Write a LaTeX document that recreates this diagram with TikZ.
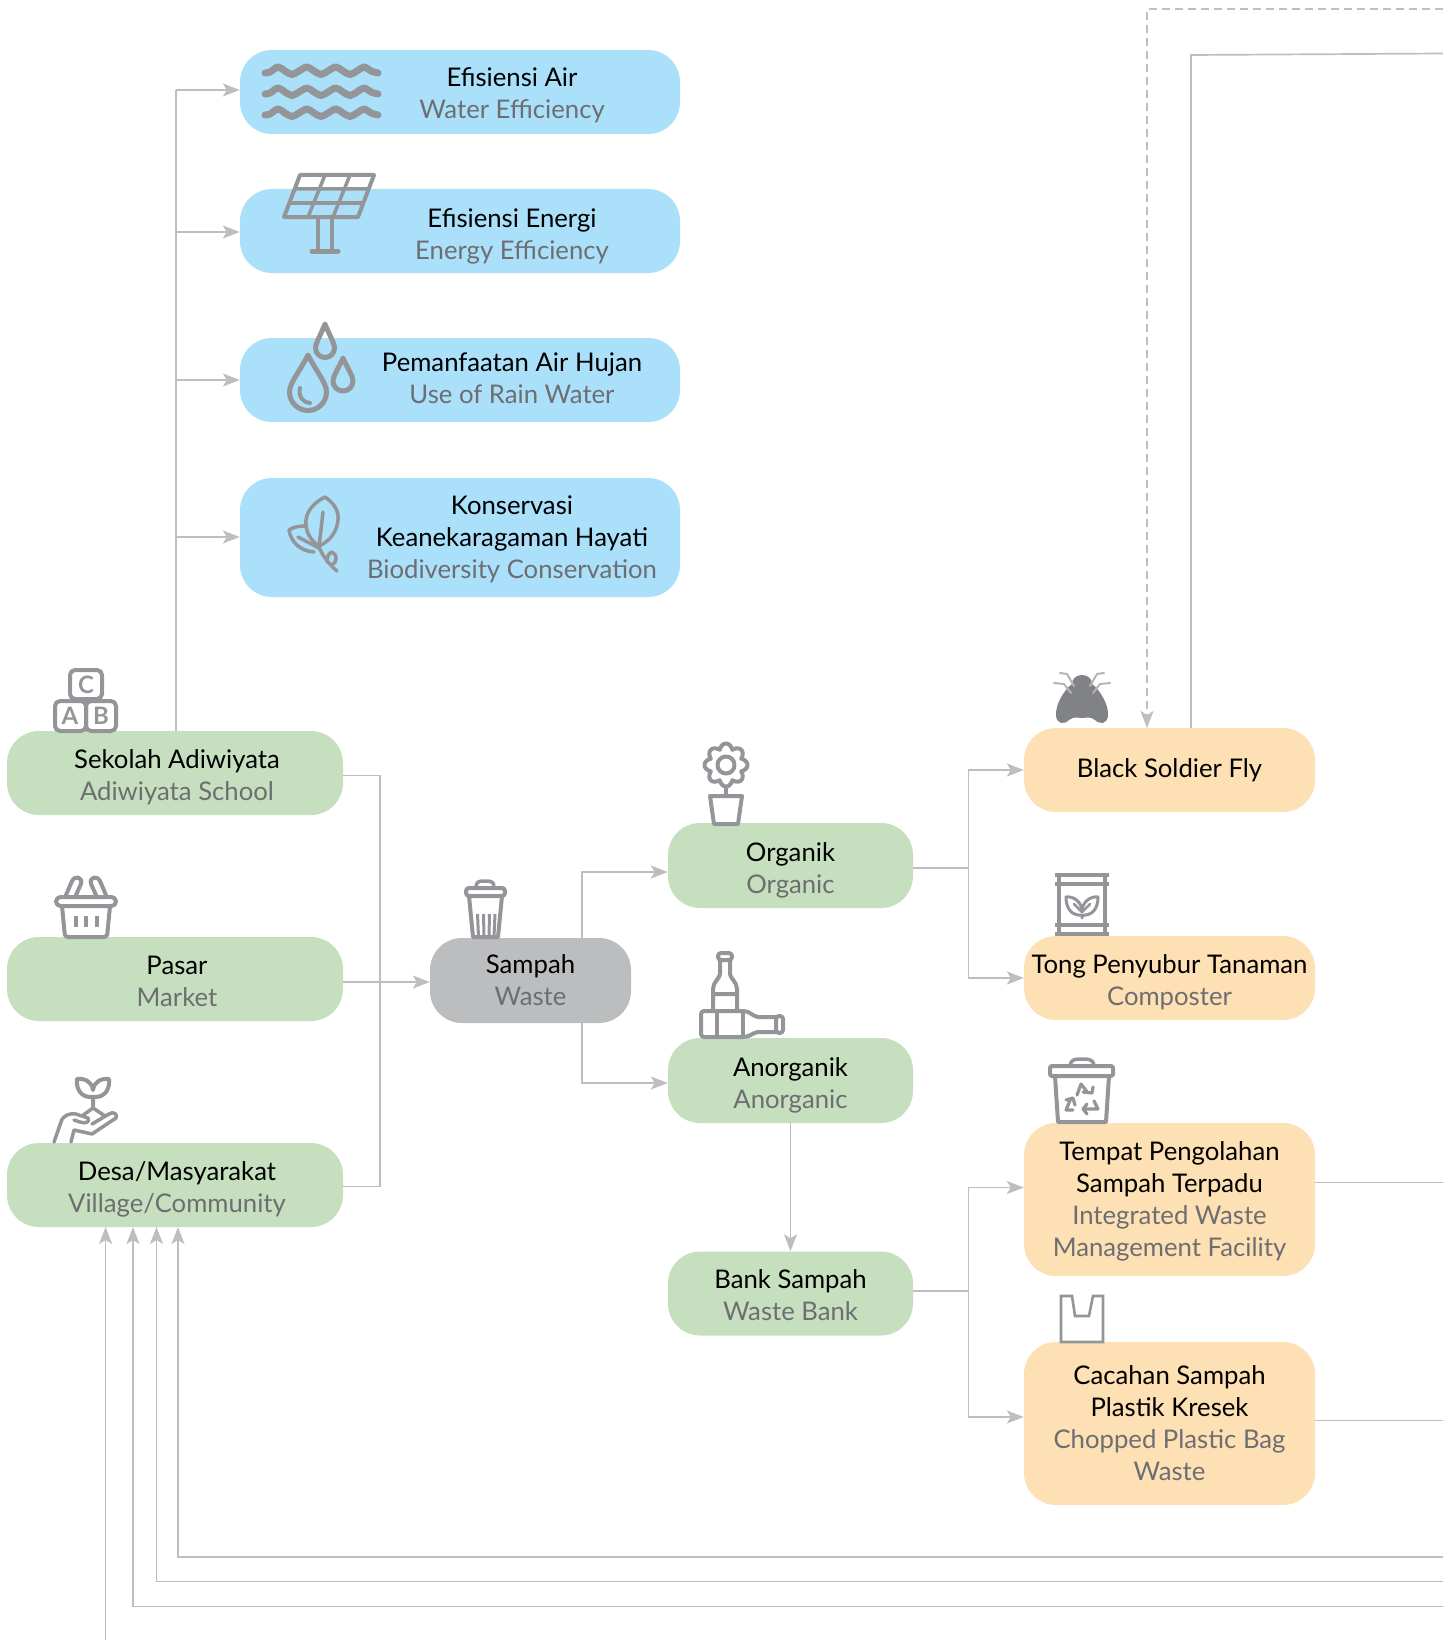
\documentclass[tikz,border=0pt]{standalone}
\usepackage{fontspec}
\setmainfont{Lato}
\usetikzlibrary{arrows.meta,calc}
\definecolor{cblue}{HTML}{ABE0FB}
\definecolor{cgreen}{HTML}{C6E0BF}
\definecolor{corange}{HTML}{FEE0B5}
\definecolor{cgray}{HTML}{BBBDBF}
\definecolor{cline}{HTML}{BCBEC0}
\definecolor{cicon}{HTML}{939598}
\definecolor{cfly}{HTML}{808285}
\definecolor{csub}{HTML}{6D6E71}
\newcommand{\sbt}[1]{{\color{csub}#1}}
\newcommand{\rdrop}[4]{\draw[ic,line width=5pt] (#1,#2) .. controls ({#1+0.45*#4},{#2+0.45*(#3-#2)}) and ({#1+#4},{#3-0.5*#4}) .. ({#1+#4},#3) .. controls ({#1+#4},{#3+0.55*#4}) and ({#1+0.55*#4},{#3+#4}) .. (#1,{#3+#4}) .. controls ({#1-0.55*#4},{#3+#4}) and ({#1-#4},{#3+0.55*#4}) .. ({#1-#4},#3) .. controls ({#1-#4},{#3-0.5*#4}) and ({#1-0.45*#4},{#2+0.45*(#3-#2)}) .. cycle;}
\newcommand{\wavy}[1]{\draw[ic,line width=7pt] plot[smooth,tension=.6] coordinates {(265,#1) (270,{#1-1}) (278,{#1-6}) (285,{#1-2}) (292,{#1+1.5}) (299,{#1-2}) (307,{#1-6}) (314,{#1-2}) (321,{#1+1.5}) (328,{#1-2}) (336,{#1-6}) (343,{#1-2}) (350,{#1+1.5}) (357,{#1-2}) (364,{#1-6}) (371,{#1-2}) (378,#1)};}
\tikzset{
  x=1pt,y=-1pt,
  box/.style={rectangle,rounded corners=32pt,inner sep=0pt},
  bluebox/.style={box,fill=cblue,minimum width=440pt},
  greenbox/.style={box,fill=cgreen,minimum height=84pt},
  graybox/.style={box,fill=cgray,minimum height=85pt,minimum width=201pt},
  orangebox/.style={box,fill=corange,minimum width=291pt},
  lbl/.style={inner sep=0pt,align=center,text=black,font=\fontsize{25.7}{32}\selectfont},
  conn/.style={draw=cline,line width=1.7pt},
  arr/.style={conn,-{Stealth[length=17pt,width=13pt,inset=4pt,fill=cline]}},
  dasharr/.style={arr,dash pattern=on 8pt off 5pt},
  ic/.style={draw=cicon,line width=4pt,line join=round,line cap=round},
  letter/.style={inner sep=0pt,text=cicon,font=\fontsize{24}{24}\selectfont\bfseries},
}
\begin{document}
\begin{tikzpicture}
\useasboundingbox (0,0) rectangle (1443,1640);
% boxes
\node[bluebox,minimum height=84pt] (water) at (460,92) {};
\node[bluebox,minimum height=84pt] (energy) at (460,231) {};
\node[bluebox,minimum height=84pt] (rain) at (460,380) {};
\node[bluebox,minimum height=119pt] (bio) at (460,537.5) {};
\node[greenbox,minimum width=336pt] (school) at (175,773) {};
\node[greenbox,minimum width=336pt] (market) at (175,979) {};
\node[greenbox,minimum width=336pt] (village) at (175,1185) {};
\node[graybox] (waste) at (530.5,980.5) {};
\node[greenbox,minimum width=245pt,minimum height=85pt] (organic) at (790.5,865.5) {};
\node[greenbox,minimum width=245pt,minimum height=85pt] (anorganic) at (790.5,1080.5) {};
\node[greenbox,minimum width=245pt,minimum height=84pt] (bank) at (790.5,1293.5) {};
\node[orangebox,minimum height=84pt] (bsf) at (1169.5,770) {};
\node[orangebox,minimum height=84pt] (tong) at (1169.5,978) {};
\node[orangebox,minimum height=153pt] (tpst) at (1169.5,1199.5) {};
\node[orangebox,minimum height=163pt] (plastic) at (1169.5,1423.5) {};
% labels
\node[lbl] (waterT) at (512,95) {Efisiensi Air\\\sbt{Water Efficiency}};
\node[lbl] (energyT) at (512,236) {Efisiensi Energi\\\sbt{Energy Efficiency}};
\node[lbl] (rainT) at (512,378) {Pemanfaatan Air Hujan\\\sbt{Use of Rain Water}};
\node[lbl] (bioT) at (512,539) {Konservasi\\Keanekaragaman Hayati\\\sbt{Biodiversity Conservation}};
\node[lbl] (schoolT) at (177,777) {Sekolah Adiwiyata\\\sbt{Adiwiyata School}};
\node[lbl] (marketT) at (177,981) {Pasar\\\sbt{Market}};
\node[lbl] (villageT) at (177,1189) {Desa/Masyarakat\\\sbt{Village/Community}};
\node[lbl] (wasteT) at (530.5,980.5) {Sampah\\\sbt{Waste}};
\node[lbl] (organicT) at (790.5,870) {Organik\\\sbt{Organic}};
\node[lbl] (anorganicT) at (790.5,1085) {Anorganik\\\sbt{Anorganic}};
\node[lbl] (bankT) at (790.5,1295.5) {Bank Sampah\\\sbt{Waste Bank}};
\node[lbl] (bsfT) at (1169.5,770.5) {Black Soldier Fly};
\node[lbl] (tongT) at (1169.5,982) {Tong Penyubur Tanaman\\\sbt{Composter}};
\node[lbl] (tpstT) at (1169.5,1201.5) {Tempat Pengolahan\\Sampah Terpadu\\\sbt{Integrated Waste}\\\sbt{Management Facility}};
\node[lbl] (plasticT) at (1169.5,1423.5) {Cacahan Sampah\\Plastik Kresek\\\sbt{Chopped Plastic Bag}\\\sbt{Waste}};

% free ends
\coordinate (trunkTop) at (176,90);
\coordinate (mergeX) at (380,982);
\coordinate (edgeA) at (1443,53.5);
\coordinate (edgeB) at (1443,9);
\coordinate (edgeC) at (1443,1182.5);
\coordinate (edgeD) at (1443,1420.5);
\coordinate (edgeE) at (1443,1557);
\coordinate (edgeF) at (1443,1581.5);
\coordinate (edgeG) at (1443,1606.5);
\coordinate (edgeH) at (105.6,1640);

% connectors
\draw[conn] (176,731) -- (trunkTop);
\draw[arr] (trunkTop) -- (water.west |- trunkTop);
\draw[arr] (176,232) -- (energy.west |- 0,232);
\draw[arr] (176,380) -- (rain.west |- 0,380);
\draw[arr] (176,537) -- (bio.west |- 0,537);
\draw[conn] (school.east |- 0,775.5) -- (380,775.5) -- (380,1186.5) -- (village.east |- 0,1186.5);
\draw[arr] (market.east |- mergeX) -- (waste.west |- mergeX);
\draw[arr] (582,938) -- (582,872) -- (organic.west |- 0,872);
\draw[arr] (582,1023) -- (582,1083) -- (anorganic.west |- 0,1083);
\draw[arr] (anorganic.south) -- (bank.north);
\draw[conn] (organic.east |- 0,868) -- (968.5,868);
\draw[arr] (968.5,978) -- (968.5,770) -- (bsf.west |- 0,770);
\draw[arr] (968.5,770) -- (968.5,978) -- (tong.west |- 0,978);
\draw[conn] (bank.east |- 0,1291) -- (968.5,1291);
\draw[arr] (968.5,1417) -- (968.5,1187.5) -- (tpst.west |- 0,1187.5);
\draw[arr] (968.5,1187.5) -- (968.5,1417) -- (plastic.west |- 0,1417);
\draw[conn] (tpst.east |- edgeC) -- (edgeC);
\draw[conn] (plastic.east |- edgeD) -- (edgeD);
\draw[arr] (edgeE) -- (178,1557) -- (178,1227);
\draw[arr] (edgeF) -- (156.5,1581.5) -- (156.5,1227);
\draw[arr] (edgeG) -- (133,1606.5) -- (133,1227);
\draw[arr] (edgeH) -- (105.6,1227);
\draw[dasharr] (edgeB) -- (1147,9) -- (1147,728);
\draw[conn] (1191,728) -- (1191,55) -- (edgeA);

% --- icons ---
\wavy{73}\wavy{94}\wavy{115}
% solar panel
\draw[ic,line width=4pt] (300,175) -- (374,175) -- (358,217) -- (284,217) -- cycle;
\draw[ic,line width=3.5pt,line cap=butt] (295,189) -- (369,189) (289,203) -- (364,203) (325,175) -- (308,217) (350,175) -- (333,217);
\draw[ic,line width=4pt] (318,217) -- (318,250) (332,217) -- (332,250);
\draw[ic,line width=5pt] (312,251) -- (338,251);
% drops
\rdrop{308}{355}{392}{18.5}
\rdrop{325}{324}{348}{9.5}
\rdrop{343}{358}{381}{10}
\draw[ic] (300,388) .. controls (298,396) and (302,402) .. (310,403);
% leaf
\draw[ic,line width=3.5pt] (325,497) .. controls (334,503) and (339,511) .. (338,520) .. controls (337,532) and (330,541) .. (319,546) .. controls (310,540) and (305,531) .. (306,520) .. controls (307,510) and (315,502) .. (325,497) -- cycle;
\draw[ic,line width=3.5pt] (306,526) .. controls (299,526) and (293,527) .. (289,530) .. controls (291,542) and (300,551) .. (314,552);
\draw[ic,line width=3.5pt] (298,537) -- (319,548);
\draw[ic,line width=3.5pt] (323,512) -- (319,547) .. controls (323,557) and (330,565) .. (337,571);
\draw[ic,line width=3.5pt] (327,562) .. controls (327,556) and (329,553) .. (332,552) .. controls (338,555) and (337,562) .. (332,565);
% blocks
\draw[ic,rounded corners=5pt] (70,670) rectangle (102,699);
\draw[ic,rounded corners=5pt] (55,701) rectangle (86,731);
\draw[ic,rounded corners=5pt] (86,701) rectangle (116,731);
\node[letter] (letC) at (86,685) {C};
\node[letter] (letA) at (70,716) {A};
\node[letter] (letB) at (101,716) {B};
% basket
\draw[ic,rounded corners=4.5pt] (56,897) rectangle (116,906);
\draw[ic,rounded corners=3pt] (62,906) -- (65,937) -- (107,937) -- (110,906);
\draw[ic] (66,895) -- (72,881) .. controls (75,875) and (83,877) .. (81,884) -- (76,895);
\draw[ic] (106,895) -- (100,881) .. controls (97,875) and (89,877) .. (91,884) -- (96,895);
\draw[ic,line cap=butt] (76,916) -- (76,927) (86,916) -- (86,927) (97,916) -- (97,927);
% plant in hand
\draw[ic] (93,1097) .. controls (80,1098) and (76,1088) .. (77,1079) .. controls (85,1078) and (92,1082) .. (93,1090) .. controls (94,1082) and (101,1078) .. (109,1079) .. controls (110,1088) and (106,1098) .. (93,1097) -- (93,1106);
\draw[ic,line width=3.5pt] (54,1142) -- (61,1122) .. controls (63,1115) and (70,1113) .. (76,1114) -- (88,1118) .. controls (90,1122) and (86,1124) .. (80,1122) (71,1142) -- (74,1130) -- (92,1134) -- (116,1118) .. controls (118,1114) and (113,1111) .. (109,1114) -- (92,1124) (80,1122) -- (74,1120) (82,1116) -- (93,1108) -- (105,1116);
% trash can
\draw[ic,rounded corners=3pt] (466,888) rectangle (505,896);
\draw[ic,line width=3.5pt] (476,887) .. controls (476,881) and (480,881) .. (485,881) .. controls (490,881) and (494,881) .. (494,887);
\draw[ic] (469,896) -- (473,937) -- (498,937) -- (502,896);
\draw[ic,line width=3pt,line cap=butt] (477.5,914) -- (478.5,937) (483.5,914) -- (484,937) (489.5,914) -- (489,937) (495,914) -- (494,937);
% flower
\draw[ic] plot[domain=0:360,samples=145,smooth] ({726+(16.5+5*abs(cos(4*\x)))*cos(\x)},{765+(16.5+5*abs(cos(4*\x)))*sin(\x)}) -- cycle;
\draw[ic] (726,765) circle[radius=8.5];
\draw[ic] (726,787) -- (726,796);
\draw[ic] (710,796) -- (742,796) -- (738,824) -- (714,824) -- cycle;
% bottles
\draw[ic,rounded corners=3pt] (718,953) rectangle (732,960);
\draw[ic] (720,960) -- (720,974) .. controls (720,978) and (713,982) .. (713,989) -- (713,1011) (730,960) -- (730,974) .. controls (730,978) and (737,982) .. (737,989) -- (737,1011) (713,994) -- (737,994);
\draw[ic,rounded corners=3pt] (743,1011) -- (701,1011) -- (701,1037) -- (743,1037);
\draw[ic] (717,1011) -- (717,1037) (743,1011) -- (743,1037);
\draw[ic] (743,1011) .. controls (750,1011) and (752,1016) .. (758,1017) -- (776,1017) (743,1037) .. controls (750,1037) and (752,1033) .. (758,1032) -- (776,1032);
\draw[ic,rounded corners=3pt] (776,1016) rectangle (783,1033);
% fly
\fill[cfly] (1082,675) .. controls (1088,675) and (1092,679) .. (1092,684) .. controls (1099,689) and (1109,704) .. (1108,716) .. controls (1107,724) and (1100,725) .. (1095,720) .. controls (1090,716) and (1086,718) .. (1082,718) .. controls (1078,718) and (1074,716) .. (1069,720) .. controls (1064,725) and (1057,724) .. (1056,716) .. controls (1055,704) and (1065,689) .. (1072,684) .. controls (1072,679) and (1076,675) .. (1082,675) -- cycle;
\draw[cicon!70,line width=2pt,line cap=round,line join=round] (1074,686) -- (1067,674) -- (1060,673) (1090,686) -- (1097,674) -- (1104,673) (1071,693) -- (1064,684) -- (1054,683) (1093,693) -- (1100,684) -- (1110,683);
% barrel
\draw[ic,line cap=butt] (1055,875) -- (1109,875) (1055,884) -- (1109,884) (1055,925) -- (1109,925) (1055,934) -- (1109,934) (1059,875) -- (1059,934) (1105,875) -- (1105,934);
\draw[ic,line width=3pt] (1082,915) .. controls (1072,916) and (1066,909) .. (1066,897) .. controls (1074,896) and (1081,902) .. (1082,910) .. controls (1083,902) and (1090,896) .. (1098,897) .. controls (1098,909) and (1092,916) .. (1082,915) -- (1082,918);
\draw[ic,line width=2.5pt] (1074,904) -- (1082,912) -- (1090,904);
% recycle bin
\draw[ic,line cap=butt,rounded corners=2pt] (1050,1066) rectangle (1113,1076);
\draw[ic,line width=3.5pt] (1070,1065) .. controls (1071,1059) and (1076,1059) .. (1082,1059) .. controls (1088,1059) and (1093,1059) .. (1094,1065);
\draw[ic] (1055,1076) -- (1058,1122) -- (1106,1122) -- (1109,1076);
\draw[ic,line width=3.2pt] (1077,1095) -- (1081,1084) -- (1088,1093) (1083,1092) -- (1092,1093) -- (1093,1087);
\draw[ic,line width=3.2pt] (1073,1110) -- (1066,1110) -- (1071,1098) (1066,1100) -- (1073,1098) -- (1075,1105);
\draw[ic,line width=3.2pt] (1083,1109) -- (1098,1109) -- (1094,1101) (1087,1104) -- (1083,1109) -- (1087,1114);
% bag
\draw[ic,line width=2.6pt,line cap=butt,line join=miter] (1061,1296) -- (1072,1296) -- (1075,1316) -- (1089,1316) -- (1093,1296) -- (1103,1296) -- (1103,1342) -- (1061,1342) -- cycle;
\end{tikzpicture}
\end{document}
